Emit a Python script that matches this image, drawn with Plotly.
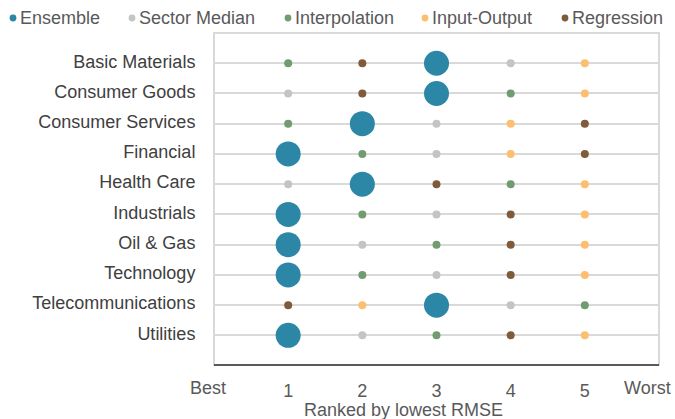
import plotly.graph_objects as go

categories = ["Basic Materials", "Consumer Goods", "Consumer Services", "Financial",
              "Health Care", "Industrials", "Oil & Gas", "Technology",
              "Telecommunications", "Utilities"]

series_names = ["Sector Median", "Interpolation", "Input-Output", "Regression", "Ensemble"]
sector_median = [4, 1, 3, 3, 1, 3, 2, 3, 4, 2]
interpolation = [1, 4, 1, 2, 4, 2, 3, 2, 5, 3]
input_output = [5, 5, 4, 4, 5, 5, 5, 5, 2, 5]
regression = [2, 2, 5, 5, 3, 4, 4, 4, 1, 4]
ensemble = [3, 3, 2, 1, 2, 1, 1, 1, 3, 1]

tick_vals = [1, 2, 3, 4, 5]
tick_text = ["1", "2", "3", "4", "5"]
end_labels = ["Best", "Worst"]

colors = {
    "Ensemble": "#2C86A5",
    "Sector Median": "#C4C4C4",
    "Interpolation": "#709C70",
    "Input-Output": "#FDBF6F",
    "Regression": "#7F5A3B",
}
values = {
    "Sector Median": sector_median,
    "Interpolation": interpolation,
    "Input-Output": input_output,
    "Regression": regression,
    "Ensemble": ensemble,
}

fig = go.Figure()
for name in series_names:
    fig.add_trace(go.Scatter(
        x=values[name], y=categories, mode="markers", name=name,
        marker=dict(color=colors[name], size=25 if name == "Ensemble" else 8,
                    line=dict(width=0)),
        showlegend=False,
    ))

# plot area geometry (pixels)
L, R, T, B = 214, 659, 33, 365.5
W, H = R - L, B - T

def px(x):
    return (x - L) / W

def py(y):
    return (B - y) / H

TXT = "#595959"
shapes = []
annotations = []

# legend built from annotations + circle shapes
legend_order = ["Ensemble", "Sector Median", "Interpolation", "Input-Output", "Regression"]
legend_marker_x = [13, 132, 288, 425, 565]
for name, mx in zip(legend_order, legend_marker_x):
    shapes.append(dict(type="circle", xref="paper", yref="paper",
                       xsizemode="pixel", ysizemode="pixel",
                       xanchor=px(mx), yanchor=py(18),
                       x0=-3.4, x1=3.4, y0=-3.4, y1=3.4,
                       fillcolor=colors[name], line=dict(width=0)))
    annotations.append(dict(text=name, xref="paper", yref="paper",
                            x=px(mx + 5), y=py(18), xanchor="left", yanchor="middle",
                            showarrow=False, font=dict(size=18, color=TXT)))

# end labels of the rank axis
annotations.append(dict(text=end_labels[0], xref="paper", yref="paper",
                        x=px(208), y=py(389), xanchor="center", yanchor="middle",
                        showarrow=False, font=dict(size=18, color=TXT)))
annotations.append(dict(text=end_labels[1], xref="paper", yref="paper",
                        x=px(673), y=py(389), xanchor="right", yanchor="middle",
                        showarrow=False, font=dict(size=18, color=TXT)))
# axis title
annotations.append(dict(text="Ranked by lowest RMSE", xref="paper", yref="paper",
                        x=px(403), y=py(411), xanchor="center", yanchor="middle",
                        showarrow=False, font=dict(size=18, color=TXT)))

# frame
shapes.append(dict(type="rect", xref="paper", yref="paper", x0=0, x1=1, y0=0, y1=1,
                   line=dict(color="#D9D9D9", width=2), layer="below"))
shapes.append(dict(type="line", xref="paper", yref="paper", x0=0, x1=1, y0=0, y1=0,
                   line=dict(color="#595959", width=2)))

fig.update_layout(
    width=675, height=419,
    margin=dict(l=L, r=675 - R, t=T, b=419 - B, autoexpand=False),
    paper_bgcolor="white", plot_bgcolor="white",
    font=dict(family="Liberation Sans, Arial, sans-serif", size=18, color=TXT),
    shapes=shapes, annotations=annotations,
    showlegend=False,
)
fig.update_xaxes(
    range=[0, 6], tickmode="array",
    tickvals=tick_vals, ticktext=tick_text,
    showgrid=False, zeroline=False, showline=False, automargin=False,
    ticks="outside", ticklen=9, tickcolor="rgba(0,0,0,0)",
    tickfont=dict(size=18, color=TXT),
)
fig.update_yaxes(
    type="category", categoryorder="array", categoryarray=categories,
    range=[9.98, -1.0], automargin=False,
    showgrid=True, gridcolor="#D9D9D9", gridwidth=2,
    zeroline=False, showline=False,
    ticks="outside", ticklen=14, tickcolor="rgba(0,0,0,0)",
    ticklabelshift=2,
    tickfont=dict(size=18, color="#404040"),
)

fig.write_html("out.html",
               config={"displayModeBar": False},
               post_script="document.body.style.margin='0';document.body.style.padding='0';document.body.style.overflow='hidden';")
